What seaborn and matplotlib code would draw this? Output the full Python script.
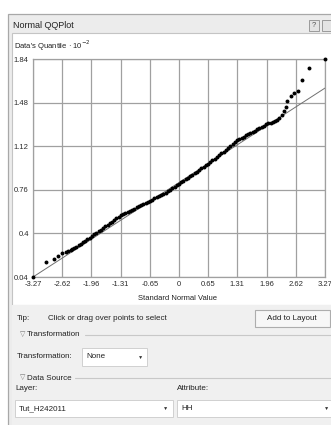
import matplotlib
matplotlib.use("Agg")
import matplotlib.pyplot as plt
import seaborn as sns
import pandas as pd
from matplotlib.patches import Rectangle
from matplotlib.lines import Line2D

# ---------------- data ----------------
normal_q = [-3.27, -2.97, -2.81, -2.70, -2.61, -2.54, -2.48, -2.43,
            -2.40, -2.35, -2.30, -2.25, -2.20, -2.15, -2.10, -2.05, -2.00, -1.95,
            -1.90, -1.85, -1.80, -1.75, -1.70, -1.65, -1.60, -1.55, -1.50, -1.45,
            -1.40, -1.35, -1.30, -1.25, -1.20, -1.15, -1.10, -1.05, -1.00, -0.95,
            -0.90, -0.85, -0.80, -0.75, -0.70, -0.65, -0.60, -0.55, -0.50, -0.45,
            -0.40, -0.35, -0.30, -0.25, -0.20, -0.15, -0.10, -0.05, 0.00, 0.05,
            0.10, 0.15, 0.20, 0.25, 0.30, 0.35, 0.40, 0.45, 0.50, 0.55,
            0.60, 0.65, 0.70, 0.75, 0.80, 0.85, 0.90, 0.95, 1.00, 1.05,
            1.10, 1.15, 1.20, 1.25, 1.30, 1.35, 1.40, 1.45, 1.50, 1.55,
            1.60, 1.65, 1.70, 1.75, 1.80, 1.85, 1.90, 1.95, 2.00, 2.05,
            2.10, 2.15, 2.20, 2.25, 2.30, 2.35, 2.40,
            2.43, 2.51, 2.58, 2.67, 2.76, 2.91, 3.27]
data_q = [0.040, 0.160, 0.186, 0.214, 0.236, 0.248, 0.257, 0.265,
          0.270, 0.280, 0.291, 0.301, 0.313, 0.326, 0.339, 0.352, 0.365, 0.378,
          0.391, 0.404, 0.418, 0.431, 0.444, 0.457, 0.470, 0.484, 0.498, 0.511,
          0.525, 0.539, 0.552, 0.561, 0.570, 0.578, 0.587, 0.596, 0.605, 0.614,
          0.624, 0.633, 0.642, 0.651, 0.661, 0.670, 0.679, 0.689, 0.698, 0.707,
          0.716, 0.726, 0.735, 0.748, 0.760, 0.773, 0.785, 0.798, 0.810, 0.822,
          0.835, 0.848, 0.860, 0.872, 0.885, 0.898, 0.911, 0.924, 0.936, 0.949,
          0.962, 0.975, 0.989, 1.004, 1.018, 1.032, 1.046, 1.061, 1.075, 1.090,
          1.106, 1.121, 1.136, 1.152, 1.170, 1.180, 1.190, 1.199, 1.209, 1.218,
          1.228, 1.238, 1.249, 1.259, 1.270, 1.280, 1.290, 1.302, 1.308, 1.313,
          1.318, 1.325, 1.335, 1.352, 1.380, 1.410, 1.445,
          1.495, 1.533, 1.556, 1.573, 1.666, 1.763, 1.840]
ref_x = [-3.27, 3.27]
ref_y = [0.04, 1.60]
x_ticks = [-3.27, -2.616, -1.962, -1.308, -0.654, 0.0, 0.654, 1.308, 1.962, 2.616, 3.27]
x_tick_labels = ["-3.27", "-2.62", "-1.96", "-1.31", "-0.65", "0", "0.65", "1.31", "1.96", "2.62", "3.27"]
y_ticks = [0.04, 0.40, 0.76, 1.12, 1.48, 1.84]
y_tick_labels = ["0.04", "0.4", "0.76", "1.12", "1.48", "1.84"]

# ---------------- style ----------------
sns.set_style("white")
plt.rcParams["font.family"] = ["Liberation Sans", "DejaVu Sans"]

W, H = 331, 425
fig = plt.figure(figsize=(W / 100, H / 100), dpi=100)
fig.patch.set_facecolor("white")


def fx(px):
    return px / W


def fy(py):
    return 1 - py / H


def rect(x0, y0, x1, y1, fc, ec="none", lw=0.8, z=0):
    fig.add_artist(Rectangle((fx(x0), fy(y1)), (x1 - x0) / W, (y1 - y0) / H,
                             transform=fig.transFigure, facecolor=fc,
                             edgecolor=ec, lw=lw, zorder=z))


def hline(x0, x1, py, color="#c8c8c8", lw=0.8):
    fig.add_artist(Line2D([fx(x0), fx(x1)], [fy(py), fy(py)],
                          transform=fig.transFigure, color=color, lw=lw))


def txt(px, py, s, size=6.0, ha="left", color="#222222", **kw):
    fig.text(fx(px), fy(py), s, ha=ha, va="center", fontsize=size, color=color, **kw)


# dialog frame
rect(8, 14, 334, 430, "#ececec", "#a8a8a8", 0.9)
rect(12, 33, 334, 305, "white", "#c4c4c4", 0.8)
rect(12, 305, 334, 430, "#f0f0f0", "none")
txt(13, 25, "Normal QQPlot", 6.5)
rect(309, 20, 319, 31, "#e4e4e4", "#9a9a9a", 0.7)
txt(314, 25.5, "?", 5.5, ha="center", color="#555555")
rect(322, 20, 334, 31, "#e4e4e4", "#9a9a9a", 0.7)

# plot panel texts
txt(14, 46, "Data's Quantile · 10$^{-2}$", 5.5)
txt(178, 299, "Standard Normal Value", 5.5, ha="center")

# ---------------- chart ----------------
ax = fig.add_axes([fx(33), fy(277), (325 - 33) / W, (277 - 59) / H])
df = pd.DataFrame({"normal": normal_q, "data": data_q})
sns.lineplot(x=ref_x, y=ref_y, ax=ax, color="#707070", lw=0.7, zorder=2)
sns.scatterplot(data=df, x="normal", y="data", ax=ax, color="black", s=8,
                linewidth=0, zorder=3, clip_on=False)
ax.set_xlim(-3.27, 3.27)
ax.set_ylim(0.04, 1.84)
ax.set_xticks(x_ticks)
ax.set_xticklabels(x_tick_labels)
ax.set_yticks(y_ticks)
ax.set_yticklabels(y_tick_labels)
ax.set_xlabel("")
ax.set_ylabel("")
ax.grid(True, color="#a0a0a0", lw=0.9)
ax.set_axisbelow(True)
for sp in ax.spines.values():
    sp.set_visible(True)
    sp.set_color("#a0a0a0")
    sp.set_linewidth(0.9)
ax.tick_params(axis="both", length=2, width=0.8, color="#909090",
               labelsize=5.5, labelcolor="#2a2a2a", pad=1)
ax.patch.set_alpha(0)

# ---------------- bottom panel ----------------
txt(17, 319, "Tip:", 5.8)
txt(48, 319, "Click or drag over points to select", 5.8)
rect(255, 310, 330, 327, "#f7f7f7", "#adadad", 0.8)
txt(292, 318.5, "Add to Layout", 5.8, ha="center")

txt(20, 335, "▽", 5.0, color="#777777")
txt(27, 335, "Transformation", 5.8)
hline(85, 331, 335)
txt(17, 357, "Transformation:", 5.8)
rect(82, 348, 147, 366, "white", "#d0d0d0", 0.7)
txt(86, 357, "None", 5.8)
txt(141, 357, "▼", 3.8, ha="center", color="#333333")

txt(20, 378, "▽", 5.0, color="#777777")
txt(27, 378, "Data Source", 5.8)
hline(75, 331, 378)
txt(15, 389, "Layer:", 5.8)
txt(177, 389, "Attribute:", 5.8)
rect(15, 400, 173, 417, "white", "#d0d0d0", 0.7)
txt(19, 408.5, "Tut_H242011", 5.8)
txt(166, 408.5, "▼", 3.8, ha="center", color="#333333")
rect(177, 400, 334, 417, "white", "#d0d0d0", 0.7)
txt(181, 408.5, "HH", 5.8)
txt(327, 408.5, "▼", 3.8, ha="center", color="#333333")

fig.savefig("out.png", dpi=100)
